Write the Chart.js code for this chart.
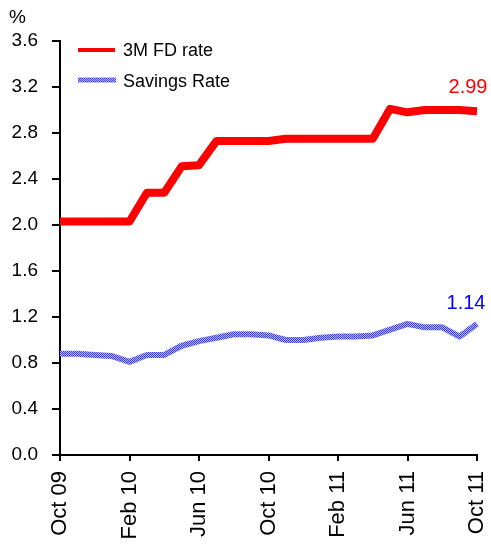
<!DOCTYPE html>
<html>
<head>
<meta charset="utf-8">
<script src="https://cdn.jsdelivr.net/npm/chart.js@4/dist/chart.umd.min.js"></script>
<style>
html,body{margin:0;padding:0;background:#fff;}
#wrap{width:491px;height:545px;}
</style>
</head>
<body>
<div id="wrap"><canvas id="c" width="491" height="545"></canvas></div>
<script>
const months = ["Oct 09","Nov 09","Dec 09","Jan 10","Feb 10","Mar 10","Apr 10","May 10","Jun 10","Jul 10","Aug 10","Sep 10","Oct 10","Nov 10","Dec 10","Jan 11","Feb 11","Mar 11","Apr 11","May 11","Jun 11","Jul 11","Aug 11","Sep 11","Oct 11"];
const fdRate = [2.03,2.03,2.03,2.03,2.03,2.28,2.28,2.51,2.52,2.73,2.73,2.73,2.73,2.75,2.75,2.75,2.75,2.75,2.75,3.01,2.98,3.00,3.00,3.00,2.99];
const savingsRate = [0.88,0.88,0.87,0.86,0.81,0.87,0.87,0.95,0.99,1.02,1.05,1.05,1.04,1.00,1.00,1.02,1.03,1.03,1.04,1.09,1.14,1.11,1.11,1.03,1.14];
const seriesNames = ["3M FD rate","Savings Rate"];
const yTicks = [0,0.4,0.8,1.2,1.6,2.0,2.4,2.8,3.2,3.6];

const FONT = '"Liberation Sans", Arial, sans-serif';

function makePattern(){
  const p = document.createElement('canvas');
  p.width = 2; p.height = 2;
  const g = p.getContext('2d');
  g.fillStyle = '#b8b8ff'; g.fillRect(0,0,2,2);
  g.fillStyle = '#3a3aff'; g.fillRect(0,0,1,1); g.fillRect(1,1,1,1);
  return document.getElementById('c').getContext('2d').createPattern(p,'repeat');
}
const bluePat = makePattern();

const overlay = {
  id: 'overlay',
  afterDraw(chart){
    const ctx = chart.ctx;
    const xs = chart.scales.x, ys = chart.scales.y;
    ctx.save();
    ctx.fillStyle = '#000';
    ctx.font = '19px ' + FONT;
    ctx.textAlign = 'left';
    ctx.textBaseline = 'alphabetic';
    ctx.fillText('%', 9, 23);
    ctx.lineCap = 'butt';
    ctx.strokeStyle = '#ff0000';
    ctx.lineWidth = 4;
    ctx.beginPath(); ctx.moveTo(78,50); ctx.lineTo(115,50); ctx.stroke();
    ctx.strokeStyle = bluePat;
    ctx.lineWidth = 5;
    ctx.beginPath(); ctx.moveTo(78,80); ctx.lineTo(116,80); ctx.stroke();
    ctx.fillStyle = '#000';
    ctx.font = '18px ' + FONT;
    ctx.textBaseline = 'middle';
    ctx.fillText(seriesNames[0], 123, 51);
    ctx.fillText(seriesNames[1], 123, 82);
    const n = months.length - 1;
    const xl = xs.getPixelForValue(n);
    ctx.font = '20px ' + FONT;
    ctx.textAlign = 'center';
    ctx.textBaseline = 'alphabetic';
    ctx.fillStyle = '#ff0000';
    ctx.fillText(fdRate[n].toFixed(2), xl - 9, ys.getPixelForValue(fdRate[n]) - 18);
    ctx.fillStyle = '#0000ff';
    ctx.fillText(savingsRate[n].toFixed(2), xl - 11, ys.getPixelForValue(savingsRate[n]) - 15);
    ctx.restore();
  }
};

new Chart(document.getElementById('c'), {
  type: 'line',
  data: {
    labels: months,
    datasets: [
      {label: seriesNames[0], data: fdRate, borderColor: '#ff0000', borderWidth: 8, pointRadius: 0, tension: 0, borderJoinStyle: 'round', fill: false},
      {label: seriesNames[1], data: savingsRate, borderColor: bluePat, borderWidth: 6, pointRadius: 0, tension: 0, borderJoinStyle: 'round', fill: false}
    ]
  },
  options: {
    responsive: false,
    animation: false,
    layout: {padding: {top: 41, right: 14, left: 0, bottom: 0}},
    plugins: {legend: {display: false}, tooltip: {enabled: false}},
    scales: {
      x: {
        offset: false,
        grid: {display: true, drawOnChartArea: false, drawTicks: true, tickLength: 6, color: '#000', lineWidth: 2},
        border: {display: true, color: '#000', width: 2},
        ticks: {
          autoSkip: false, maxRotation: 90, minRotation: 90, padding: 10,
          color: '#000', font: {family: FONT, size: 22},
          callback: (v, i) => (i % 4 === 0 ? months[i] : null)
        },
        afterFit: (s) => { s.height = 90; s.paddingLeft = 0; s.paddingRight = 0; }
      },
      y: {
        min: 0, max: 3.6,
        afterBuildTicks: (s) => { s.ticks = yTicks.map(v => ({value: v})); },
        grid: {display: true, drawOnChartArea: false, drawTicks: true, tickLength: 8, color: '#000', lineWidth: 2},
        border: {display: true, color: '#000', width: 2},
        ticks: {
          padding: 14, color: '#000', font: {family: FONT, size: 19},
          callback: (v) => Number(v).toFixed(1)
        },
        afterFit: (s) => { s.width = 60; s.paddingTop = 0; s.paddingBottom = 0; }
      }
    }
  },
  plugins: [overlay]
});
</script>
</body>
</html>
